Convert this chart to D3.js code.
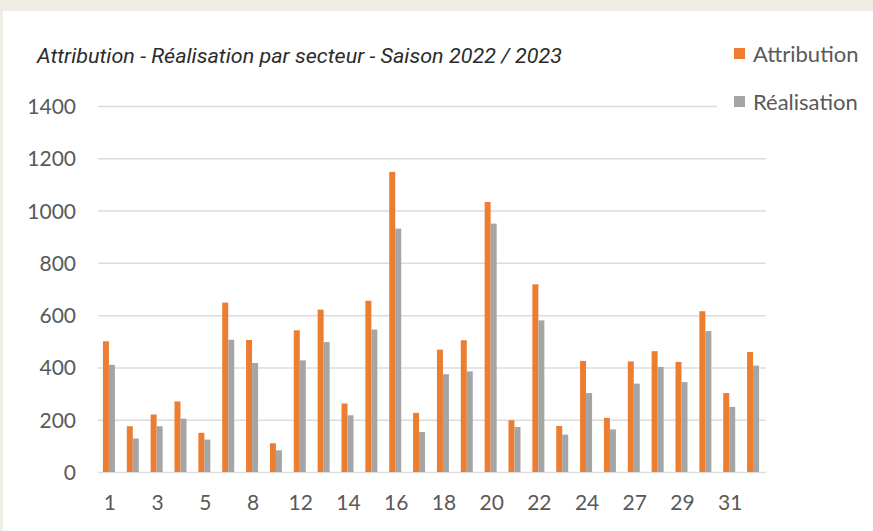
<meta charset="utf-8">
<style>
body { margin: 0; background: #efece4; }
.grid line { stroke: #dcdcdc; stroke-width: 1.5; }
.grid path { display: none; }
.yaxis text, .xaxis text { font-family: Lato, sans-serif; font-size: 21px; fill: #595959; }
.yaxis path, .yaxis line, .xaxis path, .xaxis line { display: none; }
</style>
<body>
<div id="chart"></div>
<script src="https://cdn.jsdelivr.net/npm/d3@7"></script>
<script>
// secteurs (only every other label is shown on the axis)
var sectors = ["1","2","3","4","5","6","8","10","12","13","14","15","16","17","18","19","20","21","22","23","24","25","27","28","29","30","31","32"];
var attribution = [500,175,220,270,150,648,505,110,542,621,262,655,1148,226,468,504,1033,198,718,176,425,207,423,462,421,615,302,459];
var realisation = [410,128,175,204,124,506,417,83,427,497,217,545,931,153,374,385,950,172,580,143,302,163,338,402,344,539,249,407];
var seriesNames = ["Attribution", "Réalisation"];
var yTicks = [0,200,400,600,800,1000,1200,1400];

var W = 873, H = 531;
var colors = {"Attribution": "#ed7d31", "Réalisation": "#a5a5a5"};

var svg = d3.select("#chart").append("svg")
    .attr("width", W).attr("height", H);

// white card over the paper texture
svg.append("rect").attr("x", 3).attr("y", 11).attr("width", W - 3).attr("height", H - 11).attr("fill", "#fff");

var x0 = d3.scaleBand().domain(sectors).range([98, 766]).paddingInner(0);
var x1 = d3.scaleBand().domain(seriesNames)
    .range([x0.bandwidth() / 2 - 7, x0.bandwidth() / 2 + 5]);
var y = d3.scaleLinear().domain([0, 1400]).range([472, 106]);

// gridlines
svg.append("g").attr("class", "grid")
    .attr("transform", "translate(98,0)")
    .call(d3.axisLeft(y).tickValues(yTicks).tickSize(-668).tickFormat(""));

svg.append("g").attr("class", "yaxis")
    .attr("transform", "translate(76,0)")
    .call(d3.axisLeft(y).tickValues(yTicks).tickSize(0).tickPadding(0).tickFormat(d3.format("d")))
    .selectAll("text").attr("dy", "0.36em");

svg.append("g").attr("class", "xaxis")
    .attr("transform", "translate(0,472)")
    .call(d3.axisBottom(x0).tickValues(sectors.filter(function(d, i) { return i % 2 === 0; }))
        .tickSize(0).tickPadding(30))
    .selectAll("text").attr("dy", "0.36em");

// bars
var rows = sectors.map(function(s, i) {
    return {sector: s, vals: [
        {name: "Attribution", value: attribution[i]},
        {name: "Réalisation", value: realisation[i]}
    ]};
});

svg.append("g").selectAll("g")
    .data(rows).enter().append("g")
    .attr("transform", function(d) { return "translate(" + x0(d.sector) + ",0)"; })
    .selectAll("rect")
    .data(function(d) { return d.vals; })
    .enter().append("rect")
    .attr("x", function(d) { return x1(d.name); })
    .attr("width", x1.bandwidth())
    .attr("y", function(d) { return y(d.value); })
    .attr("height", function(d) { return y(0) - y(d.value); })
    .attr("fill", function(d) { return colors[d.name]; });

// title
svg.append("text")
    .attr("x", 37).attr("y", 63)
    .attr("textLength", 525).attr("lengthAdjust", "spacingAndGlyphs")
    .style("font-family", "Roboto, sans-serif")
    .style("font-style", "italic")
    .style("font-size", "21px")
    .style("fill", "#2b2b2b")
    .text("Attribution - Réalisation par secteur - Saison 2022 / 2023");

// legend, white box hides the end of the top gridline
var legend = svg.append("g");
legend.append("rect").attr("x", 717).attr("y", 36).attr("width", 156).attr("height", 80).attr("fill", "#fff");
var li = legend.selectAll(".li").data(seriesNames).enter().append("g")
    .attr("transform", function(d, i) { return "translate(734," + (48 + i * 48) + ")"; });
li.append("rect").attr("width", 11).attr("height", 11)
    .attr("fill", function(d) { return colors[d]; });
li.append("text").attr("x", 19).attr("y", 6).attr("dy", "0.36em")
    .style("font-family", "Lato, sans-serif").style("font-size", "22px").style("fill", "#595959")
    .text(function(d) { return d; });
</script>
</body>
